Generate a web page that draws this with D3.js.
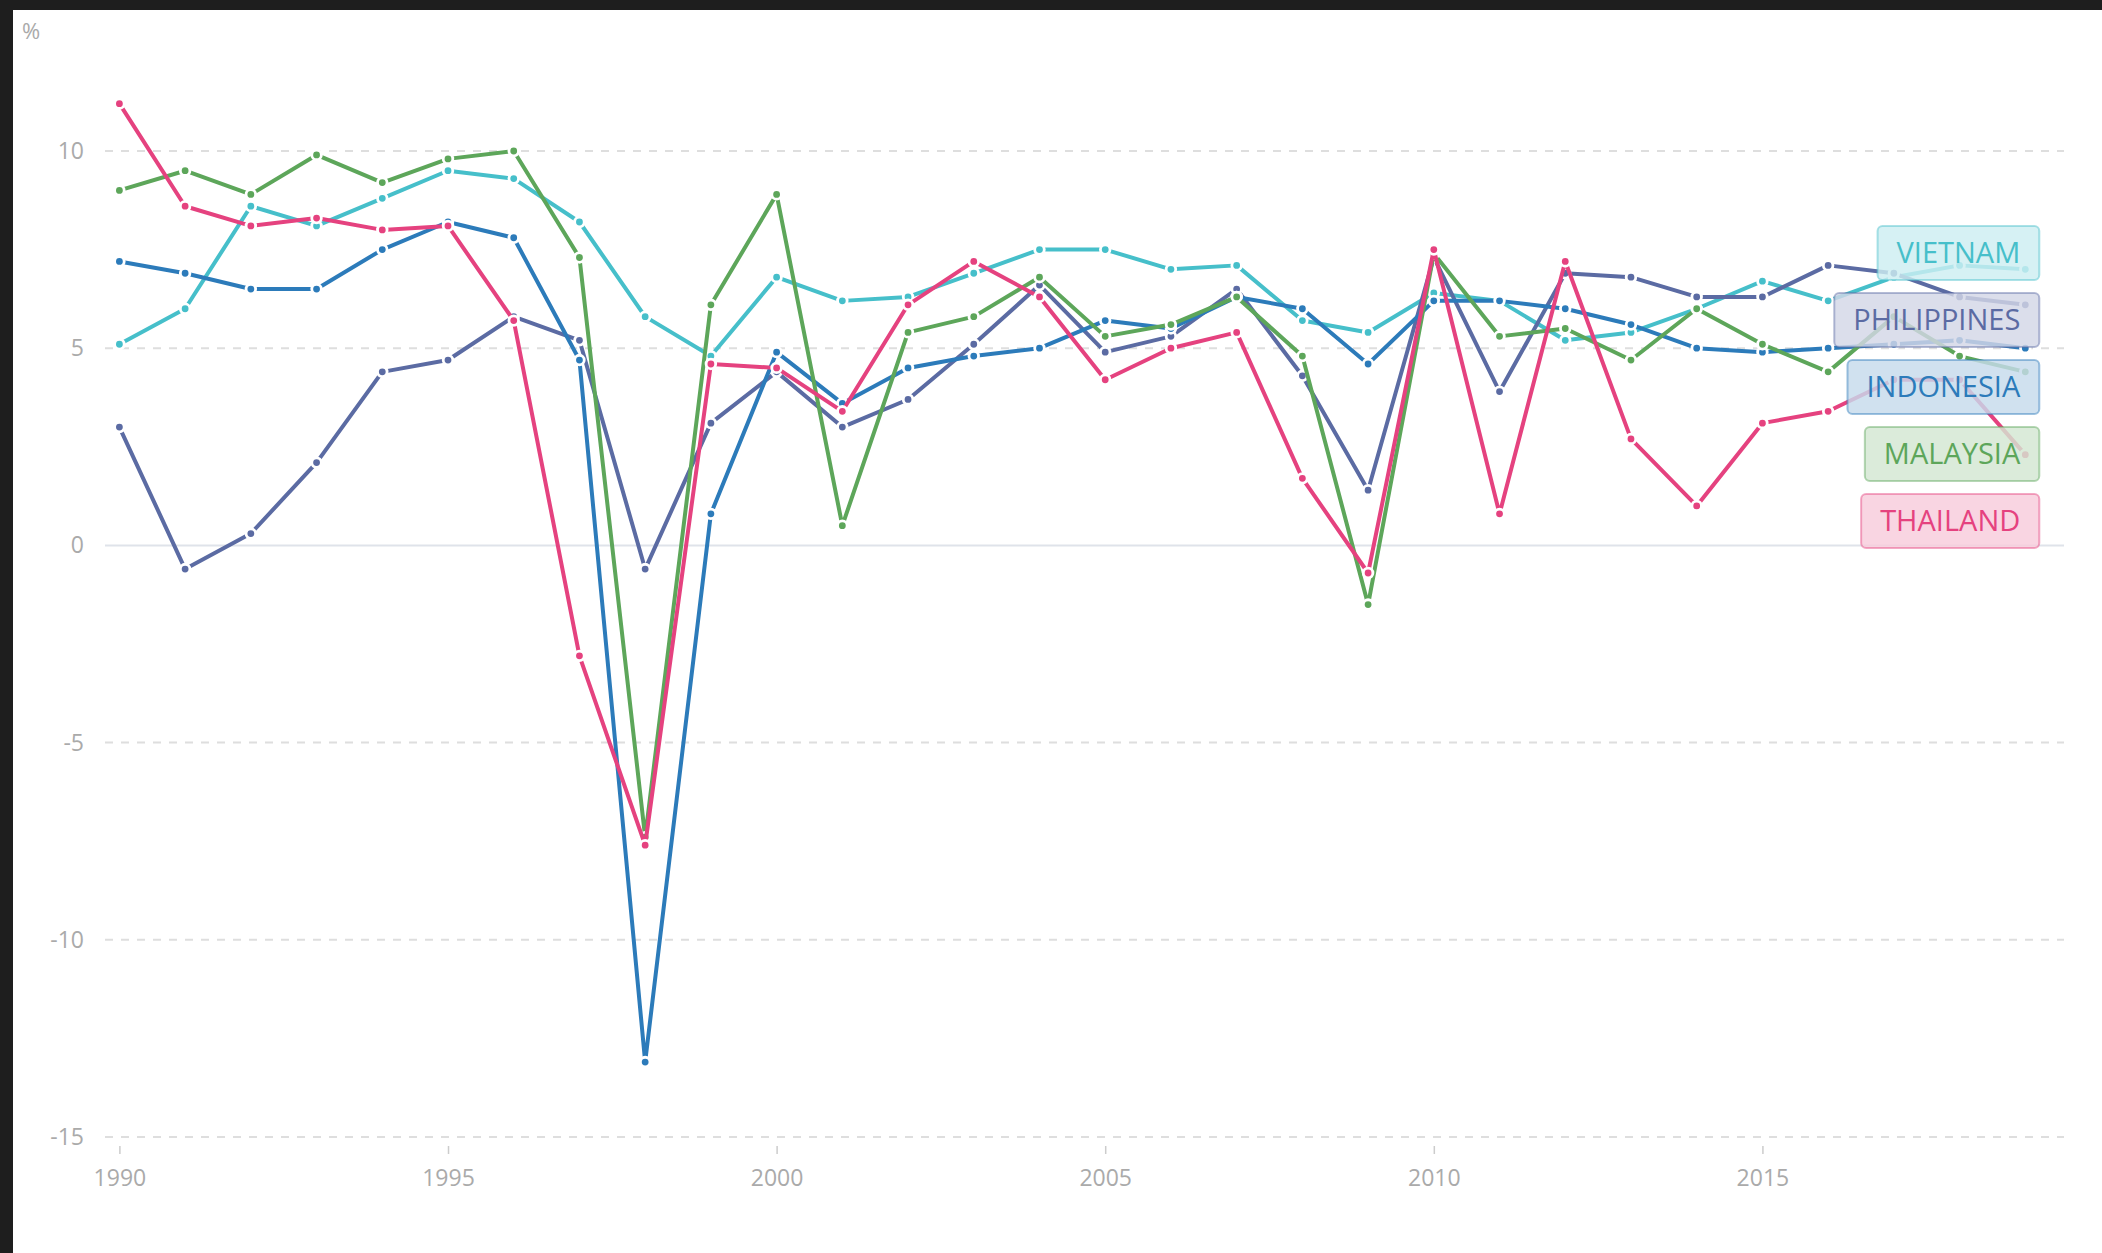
<!DOCTYPE html>
<html>
<head>
<meta charset="utf-8">
<script src="https://cdn.jsdelivr.net/npm/d3@7"></script>
<style>
    html, body { margin: 0; padding: 0; background: #1e1e1e; }
    #chart { position: absolute; left: 13px; top: 10px; }
    text { font-family: "Open Sans", "Noto Sans", sans-serif; }
</style>
</head>
<body>
<div id="chart"></div>
<script>
// years on the x axis
var years = d3.range(1990, 2020);

// GDP growth, annual %
var thailand = [11.2, 8.6, 8.1, 8.3, 8.0, 8.1, 5.7, -2.8, -7.6, 4.6, 4.5, 3.4, 6.1, 7.2, 6.3,
    4.2, 5.0, 5.4, 1.7, -0.7, 7.5, 0.8, 7.2, 2.7, 1.0, 3.1, 3.4, 4.2, 4.2, 2.3];
var malaysia = [9.0, 9.5, 8.9, 9.9, 9.2, 9.8, 10.0, 7.3, -7.4, 6.1, 8.9, 0.5, 5.4, 5.8, 6.8,
    5.3, 5.6, 6.3, 4.8, -1.5, 7.4, 5.3, 5.5, 4.7, 6.0, 5.1, 4.4, 5.8, 4.8, 4.4];
var indonesia = [7.2, 6.9, 6.5, 6.5, 7.5, 8.2, 7.8, 4.7, -13.1, 0.8, 4.9, 3.6, 4.5, 4.8, 5.0,
    5.7, 5.5, 6.3, 6.0, 4.6, 6.2, 6.2, 6.0, 5.6, 5.0, 4.9, 5.0, 5.1, 5.2, 5.0];
var philippines = [3.0, -0.6, 0.3, 2.1, 4.4, 4.7, 5.8, 5.2, -0.6, 3.1, 4.4, 3.0, 3.7, 5.1, 6.6,
    4.9, 5.3, 6.5, 4.3, 1.4, 7.3, 3.9, 6.9, 6.8, 6.3, 6.3, 7.1, 6.9, 6.3, 6.1];
var vietnam = [5.1, 6.0, 8.6, 8.1, 8.8, 9.5, 9.3, 8.2, 5.8, 4.8, 6.8, 6.2, 6.3, 6.9, 7.5,
    7.5, 7.0, 7.1, 5.7, 5.4, 6.4, 6.2, 5.2, 5.4, 6.0, 6.7, 6.2, 6.8, 7.1, 7.0];

var countryNames = ["VIETNAM", "PHILIPPINES", "INDONESIA", "MALAYSIA", "THAILAND"];
var countryColors = ["#46bfca", "#5b6ba3", "#2c7bba", "#5da65a", "#e5427f"];

var yTicks = [-15, -10, -5, 0, 5, 10];
var xTicks = [1990, 1995, 2000, 2005, 2010, 2015];

var series = [vietnam, philippines, indonesia, malaysia, thailand].map(function (vals, i) {
    return {
        name: countryNames[i],
        color: countryColors[i],
        values: vals.map(function (v, j) { return { year: years[j], value: v }; })
    };
});

var width = 2102 - 13,
    height = 1253 - 10;

var svg = d3.select("#chart").append("svg")
    .attr("width", width)
    .attr("height", height)
    .style("background", "#fff");

// offsets are from the page origin, the svg sits 13,10 inside it
var g = svg.append("g").attr("transform", "translate(-13,-10)");

var x = d3.scaleLinear().domain([1990, 2019]).range([119.4, 2025.3]);
var y = d3.scaleLinear().domain([-15, 10]).range([1137, 151]);

// grid lines
g.selectAll(".grid")
    .data(yTicks)
    .enter().append("line")
    .attr("x1", 105)
    .attr("x2", 2064)
    .attr("y1", function (d) { return y(d); })
    .attr("y2", function (d) { return y(d); })
    .attr("stroke", function (d) { return d === 0 ? "#dfe3ea" : "#dedede"; })
    .attr("stroke-width", 2)
    .attr("stroke-dasharray", function (d) { return d === 0 ? null : "8,8"; });

// y labels
g.selectAll(".ylab")
    .data(yTicks)
    .enter().append("text")
    .attr("x", 84)
    .attr("y", function (d) { return y(d); })
    .attr("dy", "0.35em")
    .attr("text-anchor", "end")
    .attr("fill", "#aaa")
    .attr("font-size", 23)
    .text(function (d) { return d; });

g.append("text")
    .attr("x", 22)
    .attr("y", 39)
    .attr("fill", "#aaa")
    .attr("font-size", 22)
    .text("%");

// x axis ticks and labels
var xAxis = g.append("g")
    .attr("transform", "translate(0,1146)")
    .call(d3.axisBottom(x).tickValues(xTicks).tickFormat(d3.format("d")).tickSize(8).tickPadding(16));
xAxis.select(".domain").remove();
xAxis.selectAll(".tick line").attr("stroke", "#ccc").attr("stroke-width", 1.5);
xAxis.selectAll(".tick text")
    .attr("fill", "#aaa")
    .attr("font-size", 23)
    .style("font-family", "'Open Sans', sans-serif");

// lines
var line = d3.line()
    .x(function (d) { return x(d.year); })
    .y(function (d) { return y(d.value); });

var layers = g.selectAll(".country")
    .data(series)
    .enter().append("g")
    .attr("class", "country");

layers.append("path")
    .attr("d", function (d) { return line(d.values); })
    .attr("fill", "none")
    .attr("stroke", function (d) { return d.color; })
    .attr("stroke-width", 4)
    .attr("stroke-linejoin", "round");

layers.selectAll("circle")
    .data(function (d) { return d.values.map(function (v) { return { v: v, color: d.color }; }); })
    .enter().append("circle")
    .attr("cx", function (d) { return x(d.v.year); })
    .attr("cy", function (d) { return y(d.v.value); })
    .attr("r", 4.8)
    .attr("fill", function (d) { return d.color; })
    .attr("stroke", "#fff")
    .attr("stroke-width", 2.8);

// labels at the end of the lines, sorted by last value
var legendTop = y(8.1),
    legendStep = 67,
    boxH = 54,
    pad = 19,
    boxRight = x(2019) + 14;

var legend = g.selectAll(".legend")
    .data(series)
    .enter().append("g")
    .attr("class", "legend");

legend.append("text")
    .attr("font-size", 29)
    .attr("text-anchor", "end")
    .attr("dy", "0.35em")
    .attr("fill", function (d) { return d.color; })
    .attr("x", boxRight - pad)
    .attr("y", function (d, i) { return legendTop + i * legendStep + boxH / 2; })
    .text(function (d) { return d.name; });

legend.insert("rect", "text")
    .attr("x", function () {
        var w = this.parentNode.querySelector("text").getComputedTextLength();
        return boxRight - w - 2 * pad;
    })
    .attr("y", function (d, i) { return legendTop + i * legendStep; })
    .attr("width", function () {
        var w = this.parentNode.querySelector("text").getComputedTextLength();
        return w + 2 * pad;
    })
    .attr("height", boxH)
    .attr("rx", 5)
    .attr("fill", function (d) {
        var c = d3.color(d.color), w = 0.27;
        return d3.rgb(255 - w * (255 - c.r), 255 - w * (255 - c.g), 255 - w * (255 - c.b));
    })
    .attr("fill-opacity", 0.82)
    .attr("stroke", function (d) { return d.color; })
    .attr("stroke-opacity", 0.45)
    .attr("stroke-width", 2);
</script>
</body>
</html>
